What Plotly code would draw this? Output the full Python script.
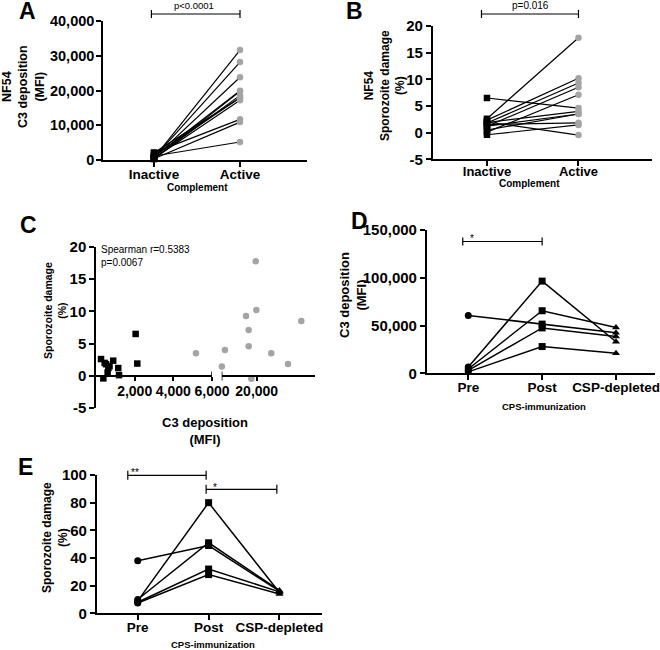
import plotly.graph_objects as go

W, H = 660, 650
FONT = "Liberation Sans, Arial, sans-serif"


def px(x):
    return x / W


def py(y):
    return 1 - y / H


# ---------------- data ----------------
complement = ["Inactive", "Active"]
inactive_c3 = [260, 890, 520, 1190, 640, 2050, 2135, 1150, 600, 380, 700, 450]
active_c3 = [19740, 19900, 17200, 17900, 31650, 17900, 11700, 5170, 23800, 10900, 28170, 18600]
inactive_dmg = [2.6, 2.35, 1.8, 0.1, 1.2, 6.5, 1.9, 1.2, 0.5, -0.4, 1.5, 2.0]
active_dmg = [17.8, 10.2, 9.3, 7.1, 8.5, 4.6, 4.0, 3.5, 3.5, 1.45, 1.85, -0.45]

cps = ["Pre", "Post", "CSP-depleted"]
pre_c3 = [60500, 6500, 4500, 3000, 1500]
post_c3 = [51500, 96500, 65500, 47500, 28000]
csp_c3 = [42500, 33000, 48000, 38500, 21000]
pre_dmg = [38, 9, 10, 8, 7.5]
post_dmg = [49, 80, 51, 32, 28]
csp_dmg = [16, 15, 16.5, 15.5, 14]

a_yticks = [0, 10000, 20000, 30000, 40000]
a_yticktext = ["0", "10,000", "20,000", "30,000", "40,000"]
dmg_ticks = [-5, 0, 5, 10, 15, 20]
dmg_ticktext = ["-5", "0", "5", "10", "15", "20"]
c_left_ticks = [2000, 4000, 6000]
c_left_ticktext = ["2,000", "4,000", "6,000"]
c_right_ticks = [20000]
c_right_ticktext = ["20,000"]
d_yticks = [0, 50000, 100000, 150000]
d_yticktext = ["0", "50,000", "100,000", "150,000"]
e_yticks = [0, 20, 40, 60, 80, 100]

GRAY = "#a4a4a4"
BLACK = "black"

fig = go.Figure()

# ---------------- panel A ----------------
for i in range(len(inactive_c3)):
    fig.add_trace(go.Scatter(x=complement, y=[inactive_c3[i], active_c3[i]], mode="lines",
                             line=dict(color=BLACK, width=1.2), xaxis="x", yaxis="y",
                             hoverinfo="skip", cliponaxis=False))
fig.add_trace(go.Scatter(x=[complement[0]] * len(inactive_c3), y=inactive_c3, mode="markers",
                         marker=dict(symbol="square", size=6.5, color=BLACK), xaxis="x", yaxis="y",
                         cliponaxis=False))
fig.add_trace(go.Scatter(x=[complement[1]] * len(active_c3), y=active_c3, mode="markers",
                         marker=dict(symbol="circle", size=6.5, color=GRAY), xaxis="x", yaxis="y",
                         cliponaxis=False))

# ---------------- panel B ----------------
for i in range(len(inactive_dmg)):
    fig.add_trace(go.Scatter(x=complement, y=[inactive_dmg[i], active_dmg[i]], mode="lines",
                             line=dict(color=BLACK, width=1.2), xaxis="x2", yaxis="y2",
                             hoverinfo="skip", cliponaxis=False))
fig.add_trace(go.Scatter(x=[complement[0]] * len(inactive_dmg), y=inactive_dmg, mode="markers",
                         marker=dict(symbol="square", size=6.5, color=BLACK), xaxis="x2", yaxis="y2",
                         cliponaxis=False))
fig.add_trace(go.Scatter(x=[complement[1]] * len(active_dmg), y=active_dmg, mode="markers",
                         marker=dict(symbol="circle", size=6.5, color=GRAY), xaxis="x2", yaxis="y2",
                         cliponaxis=False))

# ---------------- panel C (broken x axis) ----------------
BREAK_LOW, BREAK_HIGH = 6000, 10860
fig.add_trace(go.Scatter(x=inactive_c3, y=inactive_dmg, mode="markers",
                         marker=dict(symbol="square", size=6.5, color=BLACK), xaxis="x3", yaxis="y3",
                         cliponaxis=False))
act_left = [(c, d) for c, d in zip(active_c3, active_dmg) if c <= BREAK_LOW]
act_right = [(c, d) for c, d in zip(active_c3, active_dmg) if c >= BREAK_HIGH]
fig.add_trace(go.Scatter(x=[c for c, _ in act_left], y=[d for _, d in act_left], mode="markers",
                         marker=dict(symbol="circle", size=6.5, color=GRAY), xaxis="x3", yaxis="y3",
                         cliponaxis=False))
fig.add_trace(go.Scatter(x=[c for c, _ in act_right], y=[d for _, d in act_right], mode="markers",
                         marker=dict(symbol="circle", size=6.5, color=GRAY), xaxis="x4", yaxis="y3",
                         cliponaxis=False))

# ---------------- panels D and E ----------------
symbols = ["circle", "square", "triangle-up"]
for i in range(len(pre_c3)):
    fig.add_trace(go.Scatter(x=cps, y=[pre_c3[i], post_c3[i], csp_c3[i]], mode="lines+markers",
                             line=dict(color=BLACK, width=1.5),
                             marker=dict(symbol=symbols, size=7, color=BLACK),
                             xaxis="x5", yaxis="y5", cliponaxis=False))
for i in range(len(pre_dmg)):
    fig.add_trace(go.Scatter(x=cps, y=[pre_dmg[i], post_dmg[i], csp_dmg[i]], mode="lines+markers",
                             line=dict(color=BLACK, width=1.5),
                             marker=dict(symbol=symbols, size=7, color=BLACK),
                             xaxis="x6", yaxis="y6", cliponaxis=False))

# ---------------- axes ----------------
def ax(**kw):
    base = dict(showline=True, linecolor=BLACK, linewidth=1.5, ticks="outside", ticklen=5,
                tickwidth=1.5, tickcolor=BLACK, showgrid=False, zeroline=False, fixedrange=True,
                automargin=False)
    base.update(kw)
    return base


def tf(size):
    return dict(family=FONT, size=size, color=BLACK, weight="bold")


layout_axes = dict(
    # A
    xaxis=ax(domain=[px(103), px(307)], anchor="y", type="category", categoryorder="array",
             categoryarray=complement, range=[-0.593, 1.779], tickfont=tf(13.5),
             ticklabelstandoff=-4),
    yaxis=ax(domain=[py(160), py(21)], anchor="x", range=[0, 40000], tickvals=a_yticks,
             ticktext=a_yticktext, tickfont=tf(14.5), ticklabelstandoff=-1),
    # B
    xaxis2=ax(domain=[px(432.7), px(651.7)], anchor="y2", type="category", categoryorder="array",
              categoryarray=complement, range=[-0.593, 1.80], tickfont=tf(13),
              ticklabelstandoff=-6),
    yaxis2=ax(domain=[py(159.3), py(26)], anchor="x2", range=[-5, 20], tickvals=dmg_ticks,
              ticktext=dmg_ticktext, tickfont=tf(15)),
    # C
    xaxis3=ax(domain=[px(96), px(212)], anchor="free", position=py(376), range=[0, BREAK_LOW],
              tickvals=c_left_ticks, ticktext=c_left_ticktext, tickfont=tf(14), ticklen=4,
              ticklabelstandoff=-2),
    xaxis4=ax(domain=[px(221.7), px(315)], anchor="free", position=py(376),
              range=[BREAK_HIGH, 35220], tickvals=c_right_ticks, ticktext=c_right_ticktext,
              tickfont=tf(14), ticklen=4, ticklabelstandoff=-2),
    yaxis3=ax(domain=[py(408), py(247)], anchor="x3", range=[-5, 20], tickvals=dmg_ticks,
              ticktext=dmg_ticktext, tickfont=tf(15)),
    # D
    xaxis5=ax(domain=[px(426.7), px(655)], anchor="y5", type="category", categoryorder="array",
              categoryarray=cps, range=[-0.563, 2.528], tickfont=tf(13.5),
              ticklabelstandoff=-4),
    yaxis5=ax(domain=[py(373.3), py(230)], anchor="x5", range=[0, 150000], tickvals=d_yticks,
              ticktext=d_yticktext, tickfont=tf(15)),
    # E
    xaxis6=ax(domain=[px(96.7), px(322)], anchor="y6", type="category", categoryorder="array",
              categoryarray=cps, range=[-0.579, 2.60], tickfont=tf(13.5),
              ticklabelstandoff=-4),
    yaxis6=ax(domain=[py(613.3), py(475)], anchor="x6", range=[0, 100], tickvals=e_yticks,
              tickfont=tf(15)),
)

# ---------------- annotations ----------------
annotations = []


def ann(text, x, y, size, bold=True, angle=0, xanchor="center", yanchor="middle"):
    annotations.append(dict(text=text, x=px(x), y=py(y), xref="paper", yref="paper",
                            showarrow=False, textangle=angle, xanchor=xanchor, yanchor=yanchor,
                            font=dict(family=FONT, size=size, color=BLACK,
                                      weight="bold" if bold else "normal")))


# panel letters
ann("A", 27.5, 11, 23)
ann("B", 354, 11, 23)
ann("C", 28.5, 225.5, 23)
ann("D", 359, 221.5, 23)
ann("E", 26, 466.5, 23)

# axis titles
ann("NF54<br>C3 deposition<br>(MFI)", 23, 87, 12.5, angle=-90)
ann("NF54<br>Sporozoite damage<br>(%)", 384, 86, 12, angle=-90)
ann("Sporozoite damage<br>(%)", 55, 311, 10.5, angle=-90)
ann("C3 deposition<br>(MFI)", 353, 295, 13, angle=-90)
ann("Sporozoite damage<br>(%)", 55, 538, 12, angle=-90)
ann("C3 deposition<br>(MFI)", 205, 431, 13)

ann("Complement", 197.5, 187, 10)
ann("Complement", 529.5, 184, 10)
ann("CPS-immunization", 544, 406.5, 9.5)
ann("CPS-immunization", 213, 644.5, 9.5)

# statistics text
ann("p<0.0001", 194, 13, 9.5, bold=False, yanchor="bottom")
ann("p=0.016", 530, 13, 10, bold=False, yanchor="bottom")
ann("Spearman r=0.5383", 99, 249, 10, bold=False, xanchor="left")
ann("p=0.0067", 99, 262.5, 10, bold=False, xanchor="left")
ann("*", 471.7, 238, 10, bold=False)
ann("**", 135, 473, 10, bold=False)
ann("*", 215, 487, 10, bold=False)

# ---------------- significance bars ----------------
shapes = []


def sig_bar(xref, x0, x1, y, cap=4):
    ln = dict(color=BLACK, width=1.2)
    shapes.append(dict(type="line", xref=xref, yref="paper", x0=x0, x1=x1, y0=py(y), y1=py(y), line=ln))
    for xx in (x0, x1):
        shapes.append(dict(type="line", xref=xref, yref="paper", x0=xx, x1=xx,
                           y0=py(y - cap), y1=py(y + cap), line=ln))


sig_bar("x", -0.03, 1.0, 14)
sig_bar("x2", -0.06, 1.0, 14)
sig_bar("x5", -0.075, 1.0, 241.5)
sig_bar("x6", -0.14, 0.965, 475.3, cap=4.5)
sig_bar("x6", 0.965, 1.963, 489.3, cap=4.5)

# axis-break marks in panel C
for xref, xv in (("x3", BREAK_LOW), ("x4", BREAK_HIGH)):
    shapes.append(dict(type="line", xref=xref, yref="paper", x0=xv, x1=xv,
                       y0=py(380.5), y1=py(371.5), line=dict(color=BLACK, width=1.5)))

fig.update_layout(
    width=W, height=H, margin=dict(l=0, r=0, t=0, b=0, autoexpand=False),
    paper_bgcolor="white", plot_bgcolor="white", showlegend=False,
    font=dict(family=FONT, color=BLACK),
    annotations=annotations, shapes=shapes, **layout_axes,
)

fig.write_html("out.html", config={"displayModeBar": False},
               post_script="document.body.style.margin='0';document.body.style.overflow='hidden';")
